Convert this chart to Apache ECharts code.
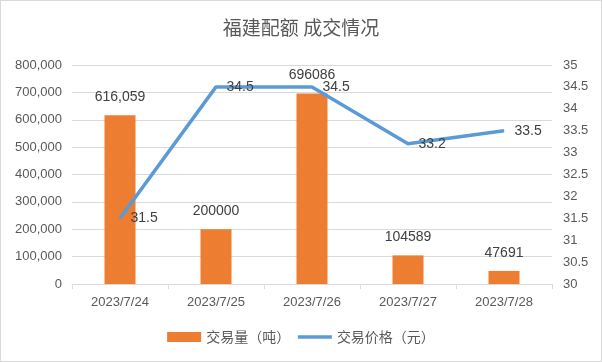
<!DOCTYPE html>
<html><head><meta charset="utf-8">
<script src="https://cdn.jsdelivr.net/npm/echarts@6/dist/echarts.min.js"></script>
<style>html,body{margin:0;padding:0;background:#fff}#c{width:600px;height:360px;border:1px solid #d9d9d9;}</style>
</head><body><div id="c"></div>
<script>
const categories = ['2023/7/24','2023/7/25','2023/7/26','2023/7/27','2023/7/28'];
const volume = [616059, 200000, 696086, 104589, 47691];
const volumeLabels = ['616,059','200000','696086','104589','47691'];
const price = [31.5, 34.5, 34.5, 33.2, 33.5];
const leftTicks = {min:0, max:800000, interval:100000};
const rightTicks = {min:30, max:35, interval:0.5};

const font = '"Liberation Sans","Noto Sans CJK SC",sans-serif';
const chart = echarts.init(document.getElementById('c'));
chart.setOption({
  animation:false,
  textStyle:{fontFamily:font},
  title:{text:'福建配额 成交情况', left:'center', top:12,
    textStyle:{fontFamily:'"Noto Sans CJK SC",sans-serif', fontSize:19, fontWeight:'normal', color:'#595959'}},
  legend:{bottom:12, left:'center', itemWidth:34, itemHeight:10, itemGap:6,
    textStyle:{fontFamily:'"Noto Sans CJK SC",sans-serif', fontSize:14, color:'#595959'},
    data:[{name:'交易量（吨）', icon:'rect'},
          {name:'交易价格（元）', itemStyle:{opacity:0}, lineStyle:{width:3.5, color:'#5B9BD5'}}]},
  grid:{left:71, right:49, top:64, bottom:77, containLabel:false},
  xAxis:{type:'category', data:categories, boundaryGap:true,
    axisLine:{lineStyle:{color:'#d9d9d9'}}, axisTick:{show:true, alignWithLabel:false, lineStyle:{color:'#d9d9d9'}, length:5},
    axisLabel:{color:'#595959', fontSize:13, margin:12}},
  yAxis:[
    {type:'value', min:leftTicks.min, max:leftTicks.max, interval:leftTicks.interval,
      axisLine:{show:false}, axisTick:{show:false},
      splitLine:{lineStyle:{color:'#d9d9d9'}},
      axisLabel:{color:'#595959', fontSize:13, margin:10,
        formatter:v=>v.toLocaleString('en-US')}},
    {type:'value', min:rightTicks.min, max:rightTicks.max, interval:rightTicks.interval,
      axisLine:{show:false}, axisTick:{show:false}, splitLine:{show:false},
      axisLabel:{color:'#595959', fontSize:13, margin:11}}
  ],
  series:[
    {name:'交易量（吨）', type:'bar', data:volume, barWidth:31, itemStyle:{color:'#ED7D31'},
      label:{show:true, position:'top', distance:11, color:'#404040', fontSize:14,
        formatter:p=>volumeLabels[p.dataIndex]}},
    {name:'交易价格（元）', type:'line', yAxisIndex:1, data:price, symbol:'circle', symbolSize:1,
      lineStyle:{color:'#5B9BD5', width:3.5}, itemStyle:{color:'#5B9BD5'},
      label:{show:true, position:'right', distance:10, color:'#404040', fontSize:14}}
  ]
});
</script></body></html>
